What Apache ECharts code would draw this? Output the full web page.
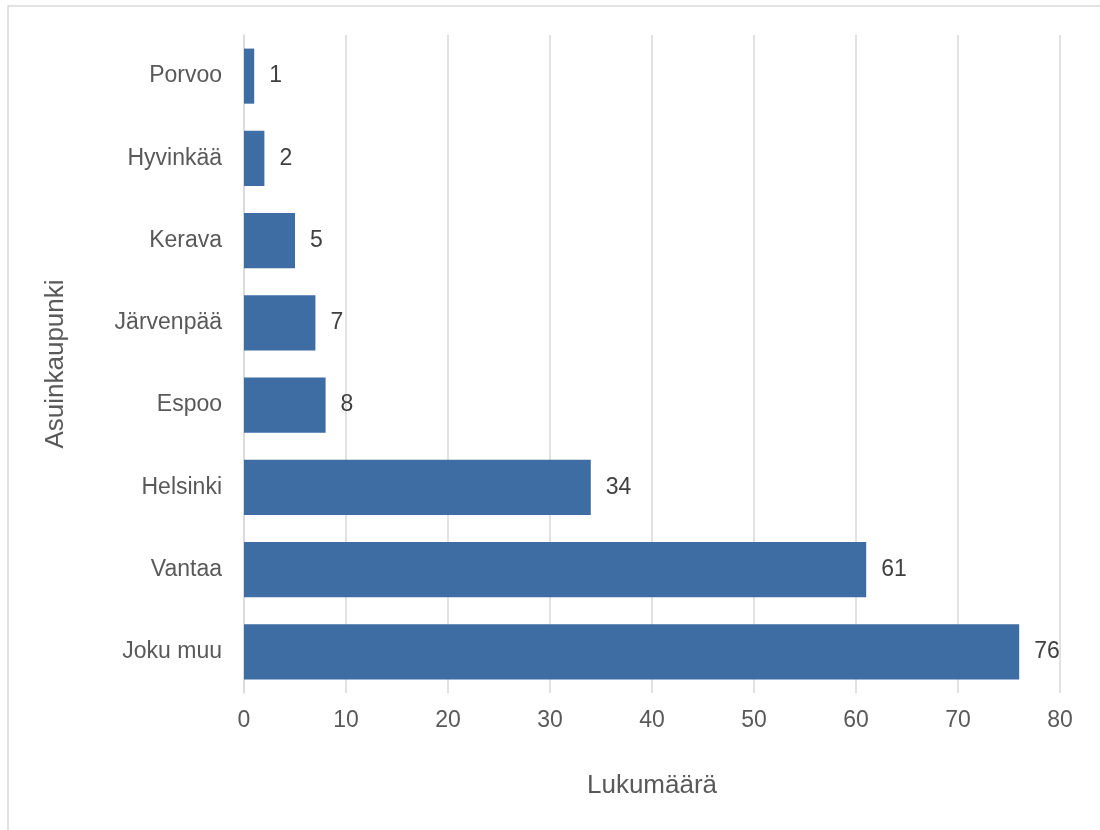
<!DOCTYPE html>
<html lang="fi">
<head>
  <meta charset="UTF-8">
  <title>Asuinkaupunki</title>
  <script src="https://cdn.jsdelivr.net/npm/echarts@6/dist/echarts.min.js"></script>
  <style>
    html, body { margin: 0; padding: 0; background: #fff; }
    #chart { width: 1100px; height: 830px; }
  </style>
</head>
<body>
  <div id="chart"></div>
  <script>
    // data, bottom-to-top order as drawn by the category axis
    const cities = ['Joku muu', 'Vantaa', 'Helsinki', 'Espoo', 'Järvenpää', 'Kerava', 'Hyvinkää', 'Porvoo'];
    const counts = [76, 61, 34, 8, 7, 5, 2, 1];
    const xTicks = [0, 10, 20, 30, 40, 50, 60, 70, 80];

    const font = '"Liberation Sans", Arial, sans-serif';
    const chart = echarts.init(document.getElementById('chart'));

    chart.setOption({
      animation: false,
      graphic: [{
        type: 'rect',
        shape: { x: 8, y: 6, width: 1200, height: 900 },
        style: { fill: 'none', stroke: '#d9d9d9', lineWidth: 1.5 },
        silent: true
      }],
      grid: { left: 244, right: 40, top: 35, bottom: 137 },
      xAxis: {
        type: 'value',
        min: xTicks[0],
        max: xTicks[xTicks.length - 1],
        interval: 10,
        name: 'Lukumäärä',
        nameLocation: 'middle',
        nameGap: 80,
        nameTextStyle: { fontFamily: font, fontSize: 26, color: '#595959' },
        axisLine: { show: false },
        axisTick: { show: false },
        axisLabel: { margin: 16, fontFamily: font, fontSize: 23, color: '#595959' },
        splitLine: { lineStyle: { color: '#d9d9d9', width: 1.5 } }
      },
      yAxis: {
        type: 'category',
        data: cities,
        name: 'Asuinkaupunki',
        nameLocation: 'middle',
        nameGap: 175,
        nameTextStyle: { fontFamily: font, fontSize: 26, color: '#595959' },
        axisLine: { show: true, lineStyle: { color: '#d9d9d9', width: 1.5 } },
        axisTick: { show: false },
        axisLabel: { margin: 22, fontFamily: font, fontSize: 23, color: '#595959' }
      },
      series: [{
        type: 'bar',
        data: counts,
        barWidth: '67%',
        itemStyle: { color: '#3e6da4' },
        label: {
          show: true,
          position: 'right',
          distance: 15,
          fontFamily: font,
          fontSize: 23,
          color: '#404040'
        }
      }]
    });
  </script>
</body>
</html>
